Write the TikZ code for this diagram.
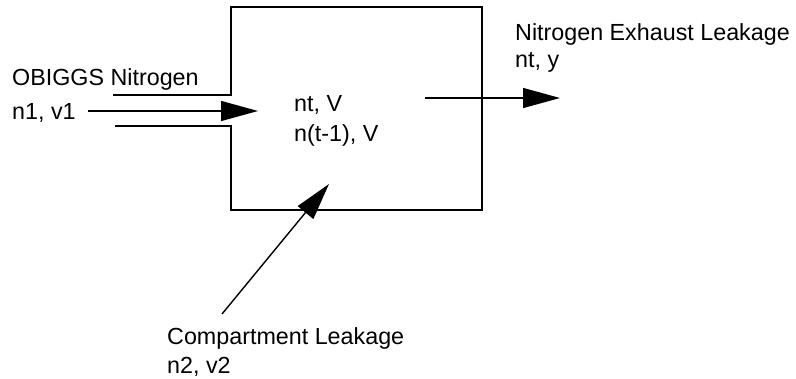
\documentclass[tikz,border=0pt]{standalone}
\usepackage{fontspec}
\setmainfont{Liberation Sans}
\usetikzlibrary{arrows.meta}
\begin{document}
\begin{tikzpicture}[x=1pt,y=-1pt,
  lbl/.style={anchor=base west,inner sep=0pt,font=\fontsize{23.3}{28}\selectfont},
  wall/.style={line width=1.8pt},
  flow/.style={line width=1.4pt,-{Triangle[length=37pt,width=20pt]}}]
\useasboundingbox (0,0) rectangle (796,378);
% tank wall with inlet opening
\draw[wall] (113,95) -- (231,95) -- (231,7) -- (482,7) -- (482,210) -- (231,210) -- (231,126) -- (115,126);
% labels
\node[lbl] (obt) at (12,85) {OBIGGS Nitrogen};
\node[lbl] (obv) at (12,119) {n1, v1};
\node[lbl] (nt) at (294,111) {nt, V};
\node[lbl] (ntm) at (294,141) {n(t-1), V};
\node[lbl] (ext) at (515,40) {Nitrogen Exhaust Leakage};
\node[lbl] (exv) at (515,67) {nt, y};
\node[lbl] (cpt) at (167,344) {Compartment Leakage};
\node[lbl] (cpv) at (167,373) {n2, v2};
% flow coordinates
\coordinate (inS) at (88,111);
\coordinate (inE) at (258,111);
\coordinate (exS) at (425,98);
\coordinate (exE) at (560,98);
\coordinate (cpS) at (222,314);
\coordinate (cpE) at (329,184);
\draw[flow] (inS) -- (inE);
\draw[flow] (exS) -- (exE);
\draw[flow] (cpS) -- (cpE);
\end{tikzpicture}
\end{document}
